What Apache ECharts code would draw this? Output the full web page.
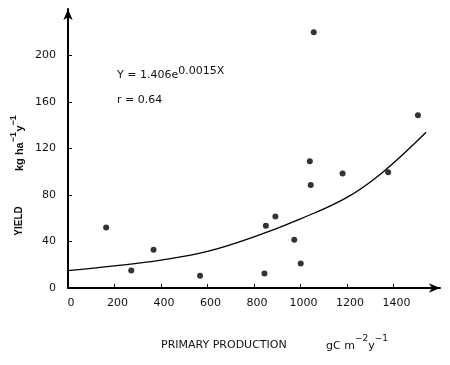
<!DOCTYPE html>
<html>
<head>
<meta charset="utf-8">
<script src="https://cdn.jsdelivr.net/npm/echarts@6/dist/echarts.min.js"></script>
<style>html,body{margin:0;padding:0;background:#fff;}#c{width:450px;height:365px;}</style>
</head>
<body>
<div id="c"></div>
<script>
// Observed points: [primary production, yield]
var points = [
  [164, 52], [272, 15], [368, 33], [568, 10.5], [845, 12.5], [851, 53.5],
  [892, 61.5], [973, 41.5], [1001, 21], [1040, 109], [1044, 88.5], [1057, 220],
  [1181, 98.5], [1377, 99.5], [1505, 148.5]
];
// Fitted curve
var curve = [
  [0, 15], [200, 19], [400, 24], [600, 31.5], [800, 44], [1000, 59.5],
  [1200, 78], [1350, 99], [1540, 134]
];
var xTicks = [200, 400, 600, 800, 1000, 1200, 1400];
var xLabels = [0, 200, 400, 600, 800, 1000, 1200, 1400];
var yTicks = [40, 80, 120, 160, 200];
var yLabels = [0, 40, 80, 120, 160, 200];

var SANS = 'Liberation Sans, Arial, sans-serif';
var DJ = 'DejaVu Sans, sans-serif';
var ctx = document.createElement('canvas').getContext('2d');

// lay out a run of text pieces (main + superscripts) as separate graphic texts
function run(x, y, rotated, parts) {
  var els = [], off = 0;
  parts.forEach(function (p) {
    var f = (p.w || 'normal') + ' ' + p.s + 'px ' + p.f;
    ctx.font = f;
    var w = ctx.measureText(p.t).width;
    var px, py;
    if (rotated) { px = x + (p.dy || 0); py = y - off; }
    else { px = x + off; py = y + (p.dy || 0); }
    els.push({type: 'text', x: px, y: py, rotation: rotated ? Math.PI / 2 : 0,
      style: {text: p.t, font: f, fill: '#111', align: 'left', verticalAlign: 'middle'}});
    off += w + (p.gap || 0);
  });
  return els;
}

var graphics = [].concat(
  [{type: 'text', x: 19, y: 221, rotation: Math.PI / 2,
    style: {text: 'YIELD', font: 'bold 10px Liberation Sans Narrow, Liberation Sans, sans-serif', fill: '#111', align: 'center', verticalAlign: 'middle'}}],
  run(20, 171, true, [
    {t: 'kg ha', s: 11, w: 'bold', f: SANS},
    {t: '−1', s: 9, w: 'bold', f: SANS, dy: -6, gap: 0.5},
    {t: 'y', s: 11, w: 'bold', f: SANS},
    {t: '−1', s: 9, w: 'bold', f: SANS, dy: -6}
  ]),
  run(161, 345, false, [{t: 'PRIMARY PRODUCTION', s: 11, f: DJ}]),
  run(326, 346, false, [
    {t: 'gC m', s: 11, f: DJ},
    {t: '−2', s: 9, f: DJ, dy: -7},
    {t: 'y', s: 11, f: DJ},
    {t: '−1', s: 9, f: DJ, dy: -7}
  ]),
  run(117, 75, false, [
    {t: 'Y = 1.406e', s: 11, f: DJ},
    {t: '0.0015X', s: 11, f: DJ, dy: -4}
  ]),
  run(117, 100, false, [{t: 'r = 0.64', s: 11, f: DJ}])
);

var chart = echarts.init(document.getElementById('c'), null, {renderer: 'canvas'});
chart.setOption({
  animation: false,
  backgroundColor: '#fff',
  grid: {left: 68, right: 10, top: 9, bottom: 77},
  xAxis: {
    type: 'value', min: 0, max: 1600, interval: 200,
    axisLine: {lineStyle: {color: '#000', width: 2}, symbol: ['none', 'arrow'], symbolSize: [7, 11]},
    axisTick: {inside: true, length: 4, lineStyle: {color: '#000', width: 1}, customValues: xTicks},
    axisLabel: {customValues: xLabels, fontSize: 11, color: '#111', fontFamily: DJ, margin: 10,
      padding: [0, 0, 0, 6], formatter: function (v) { return String(v); }},
    splitLine: {show: false}
  },
  yAxis: {
    type: 'value', min: 0, max: 240, interval: 40,
    axisLine: {lineStyle: {color: '#000', width: 2}, symbol: ['none', 'arrow'], symbolSize: [7, 11]},
    axisTick: {inside: true, length: 4, lineStyle: {color: '#000', width: 1}, customValues: yTicks},
    axisLabel: {customValues: yLabels, fontSize: 11, color: '#111', fontFamily: DJ, margin: 12,
      formatter: function (v) { return String(v); }},
    splitLine: {show: false}
  },
  graphic: graphics,
  series: [
    {type: 'line', data: curve, smooth: 0.4, showSymbol: false, symbol: 'none',
     lineStyle: {color: '#000', width: 1.3}, z: 2},
    {type: 'scatter', data: points, symbol: 'circle', symbolSize: 6,
     itemStyle: {color: '#000'}, z: 3}
  ]
});
</script>
</body>
</html>
